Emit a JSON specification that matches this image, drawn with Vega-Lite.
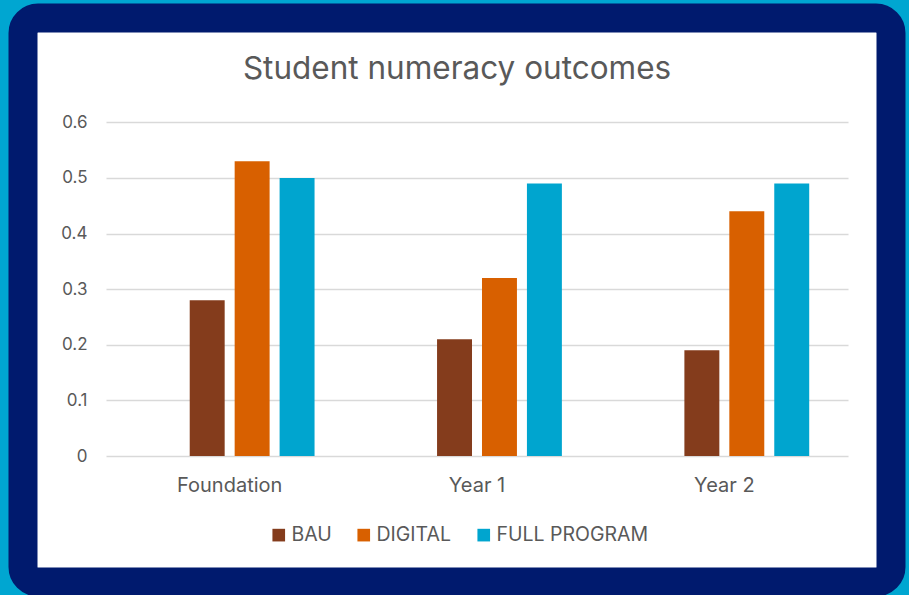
{
  "$schema": "https://vega.github.io/schema/vega-lite/v6.json",
  "autosize": {"type": "none"},
  "width": 868,
  "height": 564,
  "padding": {"left": 23, "top": 18, "right": 18, "bottom": 13},
  "background": "#00a6d1",
  "config": {
    "view": {"fill": "#ffffff", "stroke": "#001a6e", "strokeWidth": 29, "cornerRadius": 15},
    "font": "Inter"
  },
  "title": {
    "text": "Student numeracy outcomes",
    "fontSize": 31.5,
    "fontWeight": "normal",
    "color": "#595959",
    "anchor": "middle",
    "frame": "group",
    "offset": -92,
    "baseline": "alphabetic"
  },
  "data": {
    "values": [
      {"grade": "Foundation", "series": "BAU", "value": 0.28},
      {"grade": "Foundation", "series": "DIGITAL", "value": 0.53},
      {"grade": "Foundation", "series": "FULL PROGRAM", "value": 0.50},
      {"grade": "Year 1", "series": "BAU", "value": 0.21},
      {"grade": "Year 1", "series": "DIGITAL", "value": 0.32},
      {"grade": "Year 1", "series": "FULL PROGRAM", "value": 0.49},
      {"grade": "Year 2", "series": "BAU", "value": 0.19},
      {"grade": "Year 2", "series": "DIGITAL", "value": 0.44},
      {"grade": "Year 2", "series": "FULL PROGRAM", "value": 0.49}
    ]
  },
  "mark": {"type": "bar"},
  "encoding": {
    "x": {
      "field": "grade",
      "type": "nominal",
      "sort": ["Foundation", "Year 1", "Year 2"],
      "scale": {"range": [83, 825], "paddingInner": 0, "paddingOuter": 0},
      "axis": {
        "title": null,
        "orient": "bottom",
        "offset": -126,
        "domain": false,
        "ticks": false,
        "grid": false,
        "labelAngle": 0,
        "labelFontSize": 20,
        "labelColor": "#595959",
        "labelPadding": 19
      }
    },
    "xOffset": {
      "field": "series",
      "type": "nominal",
      "scale": {"domain": ["pad", "BAU", "DIGITAL", "FULL PROGRAM"], "paddingInner": 0.2222, "paddingOuter": 0.863}
    },
    "y": {
      "field": "value",
      "type": "quantitative",
      "stack": null,
      "scale": {"domain": [0, 0.6], "range": [438, 104.3], "nice": false},
      "axis": {
        "title": null,
        "orient": "left",
        "offset": -83,
        "domain": false,
        "ticks": false,
        "grid": true,
        "gridColor": "#d9d9d9",
        "gridWidth": 1.4,
        "values": [0, 0.1, 0.2, 0.3, 0.4, 0.5, 0.6],
        "format": ".1~f",
        "labelFontSize": 17,
        "labelColor": "#595959",
        "labelPadding": 19
      }
    },
    "color": {
      "field": "series",
      "type": "nominal",
      "scale": {"domain": ["BAU", "DIGITAL", "FULL PROGRAM"], "range": ["#843c1c", "#d86000", "#00a5cf"]},
      "legend": {
        "title": null,
        "orient": "none",
        "legendX": 246,
        "legendY": 507,
        "direction": "horizontal",
        "symbolType": "square",
        "symbolSize": 160,
        "symbolStrokeWidth": 0,
        "labelFontSize": 19.5,
        "labelColor": "#595959",
        "labelOffset": 3,
        "columnPadding": 22,
        "padding": 0
      }
    }
  }
}
